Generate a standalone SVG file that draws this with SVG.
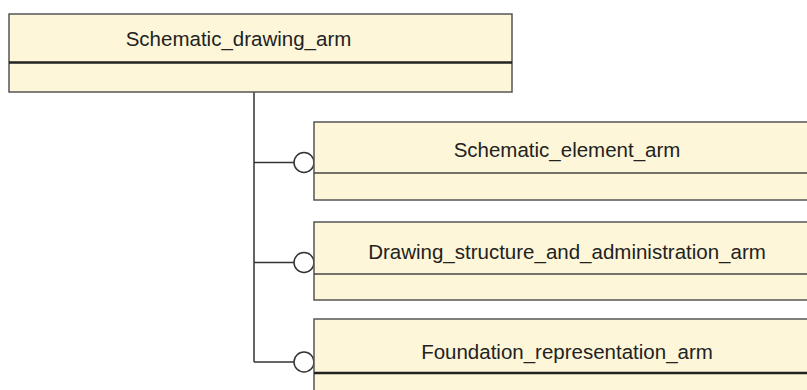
<svg xmlns="http://www.w3.org/2000/svg" width="807" height="390" viewBox="0 0 807 390">
<style>
.box{fill:#fdf6d8;stroke:#555;stroke-width:1.5}
.div{stroke:#444;stroke-width:1.5}
.thick{stroke:#222;stroke-width:2.5}
.lbl{font-family:"Liberation Sans",Arial,sans-serif;font-size:20.5px;fill:#222;text-anchor:middle}
.conn{fill:none;stroke:#333;stroke-width:1.5}
.circ{fill:#fff;stroke:#333;stroke-width:1.5}
</style>
<rect x="0" y="0" width="807" height="390" fill="#fff"/>
<g id="connectors">
<path class="conn" d="M254 92 V362 M254 162.5 H294 M254 262.5 H294 M254 362 H294"/>
<circle class="circ" cx="304" cy="162.5" r="10"/>
<circle class="circ" cx="304" cy="262.5" r="10"/>
<circle class="circ" cx="304" cy="362" r="10"/>
</g>
<g id="schematic_drawing_arm">
<rect class="box" x="9" y="14" width="503" height="78"/>
<line class="thick" x1="9" y1="62.5" x2="512" y2="62.5"/>
<text class="lbl" x="238.5" y="46">Schematic_drawing_arm</text>
</g>
<g id="schematic_element_arm">
<rect class="box" x="314" y="122" width="520" height="78"/>
<line class="div" x1="314" y1="173" x2="834" y2="173"/>
<text class="lbl" x="567" y="157">Schematic_element_arm</text>
</g>
<g id="drawing_structure_and_administration_arm">
<rect class="box" x="314" y="222" width="520" height="78"/>
<line class="div" x1="314" y1="274" x2="834" y2="274"/>
<text class="lbl" x="567" y="259">Drawing_structure_and_administration_arm</text>
</g>
<g id="foundation_representation_arm">
<rect class="box" x="314" y="319" width="520" height="90"/>
<line class="thick" x1="314" y1="373" x2="834" y2="373"/>
<text class="lbl" x="567" y="359">Foundation_representation_arm</text>
</g>
</svg>
